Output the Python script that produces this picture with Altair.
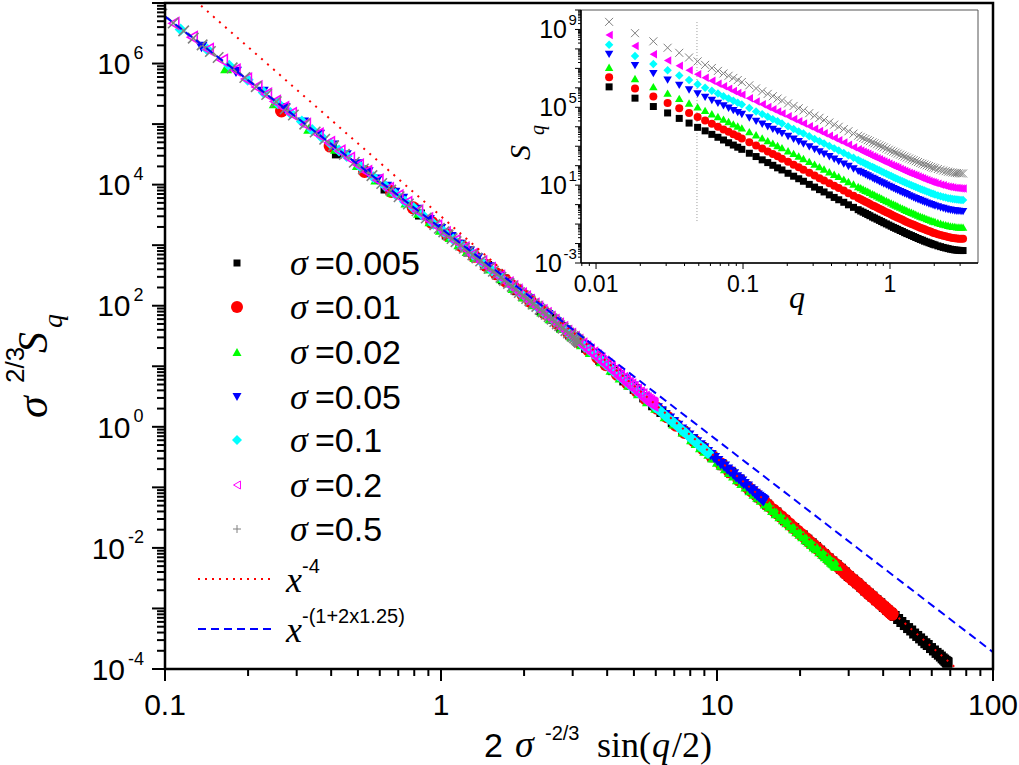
import numpy as np
import pandas as pd
import altair as alt

W, H = 828, 666  # main plot area (pixels)

sigmas = [0.005, 0.01, 0.02, 0.05, 0.1, 0.2, 0.5]
legend_values = ["=0.005", "=0.01", "=0.02", "=0.05", "=0.1", "=0.2", "=0.5"]

# wave-vector grid (subset of the modes shown)
q_values = [0.01227, 0.01841, 0.02454, 0.03068, 0.03682, 0.04295, 0.04909, 0.05522, 0.06136, 0.06750,
            0.07363, 0.07977, 0.08590, 0.09204, 0.09817, 0.1104, 0.1227, 0.1350, 0.1473, 0.1595,
            0.1718, 0.1841, 0.2025, 0.2209, 0.2393, 0.2577, 0.2823, 0.3068, 0.3313, 0.3559,
            0.3866, 0.4172, 0.4479, 0.4847, 0.5216, 0.5645, 0.6075, 0.6320, 0.6565, 0.6811,
            0.7056, 0.7302, 0.7609, 0.7854, 0.8161, 0.8468, 0.8774, 0.9081, 0.9449, 0.9817,
            1.0186, 1.0554, 1.0922, 1.1290, 1.1720, 1.2149, 1.2579, 1.3008, 1.3499, 1.3990,
            1.4481, 1.4972, 1.5524, 1.6076, 1.6628, 1.7181, 1.7794, 1.8408, 1.9021, 1.9635,
            2.0249, 2.1169, 2.2089, 2.3010, 2.3930, 2.4850, 2.5771, 2.6691, 2.7612, 2.8532,
            2.9452, 3.0434, 3.1416]

# log10 S_q, one list per sigma
logS_0005 = [6.05, 5.47, 5.04, 4.71, 4.43, 4.19, 3.97, 3.79, 3.61, 3.46,
             3.32, 3.18, 3.06, 2.95, 2.84, 2.64, 2.47, 2.30, 2.16, 2.02,
             1.89, 1.78, 1.61, 1.46, 1.33, 1.20, 1.04, 0.90, 0.77, 0.65,
             0.50, 0.37, 0.25, 0.12, -0.01, -0.14, -0.26, -0.33, -0.39, -0.45,
             -0.51, -0.57, -0.64, -0.69, -0.75, -0.81, -0.87, -0.93, -0.99, -1.05,
             -1.11, -1.17, -1.22, -1.27, -1.33, -1.38, -1.44, -1.49, -1.54, -1.59,
             -1.64, -1.69, -1.74, -1.79, -1.83, -1.88, -1.92, -1.96, -2.00, -2.04,
             -2.07, -2.12, -2.16, -2.20, -2.23, -2.26, -2.29, -2.31, -2.33, -2.34,
             -2.35, -2.36, -2.36]
logS_001 = [6.55, 5.97, 5.55, 5.22, 4.95, 4.71, 4.50, 4.32, 4.15, 4.00,
            3.86, 3.74, 3.62, 3.51, 3.40, 3.21, 3.04, 2.88, 2.73, 2.60,
            2.48, 2.36, 2.20, 2.05, 1.92, 1.79, 1.64, 1.50, 1.36, 1.24,
            1.10, 0.97, 0.85, 0.72, 0.59, 0.46, 0.34, 0.27, 0.21, 0.15,
            0.09, 0.03, -0.04, -0.09, -0.15, -0.21, -0.27, -0.33, -0.39, -0.45,
            -0.51, -0.57, -0.62, -0.67, -0.73, -0.78, -0.84, -0.89, -0.94, -0.99,
            -1.04, -1.09, -1.14, -1.19, -1.23, -1.27, -1.32, -1.36, -1.40, -1.44,
            -1.47, -1.52, -1.56, -1.60, -1.63, -1.66, -1.69, -1.71, -1.73, -1.74,
            -1.75, -1.76, -1.76]
logS_002 = [7.06, 6.48, 6.06, 5.73, 5.46, 5.22, 5.02, 4.84, 4.67, 4.53,
            4.39, 4.27, 4.15, 4.04, 3.94, 3.75, 3.59, 3.43, 3.29, 3.16,
            3.04, 2.93, 2.77, 2.63, 2.50, 2.37, 2.22, 2.08, 1.95, 1.83,
            1.69, 1.56, 1.45, 1.31, 1.19, 1.06, 0.93, 0.87, 0.80, 0.74,
            0.69, 0.63, 0.56, 0.51, 0.45, 0.39, 0.33, 0.27, 0.21, 0.15,
            0.09, 0.03, -0.02, -0.07, -0.13, -0.18, -0.24, -0.29, -0.34, -0.39,
            -0.44, -0.49, -0.54, -0.59, -0.63, -0.67, -0.72, -0.76, -0.80, -0.84,
            -0.87, -0.92, -0.96, -1.00, -1.03, -1.06, -1.09, -1.11, -1.12, -1.14,
            -1.15, -1.15, -1.16]
logS_005 = [7.72, 7.14, 6.73, 6.40, 6.13, 5.89, 5.69, 5.51, 5.35, 5.20,
            5.07, 4.95, 4.83, 4.73, 4.63, 4.45, 4.28, 4.13, 4.00, 3.87,
            3.76, 3.65, 3.50, 3.36, 3.23, 3.11, 2.97, 2.83, 2.71, 2.59,
            2.46, 2.33, 2.21, 2.08, 1.96, 1.83, 1.71, 1.65, 1.59, 1.53,
            1.47, 1.41, 1.35, 1.29, 1.23, 1.17, 1.12, 1.06, 1.00, 0.94,
            0.88, 0.82, 0.77, 0.72, 0.66, 0.61, 0.56, 0.51, 0.45, 0.40,
            0.35, 0.30, 0.25, 0.21, 0.16, 0.12, 0.08, 0.03, 0.00, -0.04,
            -0.08, -0.12, -0.17, -0.20, -0.24, -0.27, -0.29, -0.31, -0.33, -0.34,
            -0.35, -0.36, -0.36]
logS_01 = [8.22, 7.64, 7.23, 6.90, 6.63, 6.40, 6.19, 6.01, 5.85, 5.71,
           5.57, 5.45, 5.34, 5.23, 5.14, 4.96, 4.79, 4.65, 4.51, 4.39,
           4.28, 4.17, 4.02, 3.89, 3.76, 3.65, 3.51, 3.37, 3.25, 3.14,
           3.01, 2.89, 2.78, 2.65, 2.53, 2.41, 2.29, 2.22, 2.16, 2.10,
           2.05, 1.99, 1.93, 1.88, 1.82, 1.76, 1.70, 1.65, 1.58, 1.52,
           1.47, 1.41, 1.36, 1.31, 1.25, 1.20, 1.15, 1.10, 1.05, 0.99,
           0.95, 0.90, 0.85, 0.80, 0.76, 0.72, 0.67, 0.63, 0.59, 0.56,
           0.52, 0.47, 0.43, 0.39, 0.36, 0.33, 0.31, 0.29, 0.27, 0.26,
           0.25, 0.24, 0.24]
logS_02 = [8.72, 8.15, 7.73, 7.40, 7.13, 6.90, 6.70, 6.52, 6.36, 6.21,
           6.08, 5.96, 5.84, 5.74, 5.64, 5.46, 5.30, 5.16, 5.02, 4.90,
           4.79, 4.68, 4.54, 4.40, 4.28, 4.17, 4.03, 3.90, 3.78, 3.67,
           3.54, 3.42, 3.31, 3.19, 3.08, 2.95, 2.84, 2.78, 2.72, 2.66,
           2.61, 2.55, 2.49, 2.44, 2.38, 2.33, 2.27, 2.22, 2.16, 2.10,
           2.04, 1.99, 1.94, 1.89, 1.83, 1.78, 1.73, 1.68, 1.63, 1.58,
           1.53, 1.49, 1.44, 1.39, 1.35, 1.30, 1.26, 1.22, 1.18, 1.15,
           1.11, 1.07, 1.02, 0.99, 0.95, 0.92, 0.90, 0.88, 0.86, 0.85,
           0.84, 0.83, 0.83]
logS_05 = [9.39, 8.81, 8.39, 8.06, 7.80, 7.56, 7.36, 7.18, 7.02, 6.87,
           6.74, 6.62, 6.51, 6.40, 6.30, 6.13, 5.97, 5.82, 5.69, 5.57,
           5.45, 5.35, 5.20, 5.07, 4.95, 4.84, 4.70, 4.57, 4.46, 4.35,
           4.22, 4.11, 4.00, 3.88, 3.77, 3.65, 3.54, 3.48, 3.42, 3.37,
           3.31, 3.26, 3.20, 3.15, 3.10, 3.04, 2.99, 2.94, 2.88, 2.82,
           2.77, 2.72, 2.67, 2.62, 2.57, 2.52, 2.47, 2.42, 2.37, 2.32,
           2.28, 2.23, 2.19, 2.14, 2.10, 2.06, 2.02, 1.98, 1.94, 1.90,
           1.87, 1.83, 1.79, 1.75, 1.72, 1.69, 1.67, 1.65, 1.63, 1.62,
           1.61, 1.60, 1.60]

series_logS = [logS_0005, logS_001, logS_002, logS_005, logS_01, logS_02, logS_05]

# guide power laws
guide_x = [0.1, 100.0]
red_coef, red_exp = 3000.0, -4.0
blue_coef, blue_exp = 1900.0, -3.5

# inset marker line (dotted)
inset_mark_q = [0.0486]
inset_mark_top = [2.4e9]
inset_mark_bottom = [0.12]

# tick labels
main_x_ticks = [0.1, 1, 10, 100]
main_x_labels = ["0.1", "1", "10", "100"]
main_y_exps = [6, 4, 2, 0, -2, -4]
inset_x_ticks = [0.01, 0.1, 1]
inset_x_labels = ["0.01", "0.1", "1"]
inset_y_exps = [9, 5, 1, -3]

# ---------------------------------------------------------------- data frames
q = np.array(q_values)
main_frames, inset_frames = [], []
for s, ls in zip(sigmas, series_logS):
    S = 10.0 ** np.array(ls)
    inset_frames.append(pd.DataFrame({"q": q, "S": S}))
    x = 2.0 * s ** (-2.0 / 3.0) * np.sin(q / 2.0)
    y = s ** (2.0 / 3.0) * S
    keep = x >= 0.085
    main_frames.append(pd.DataFrame({"x": x[keep], "y": y[keep]}))

gx = np.array(guide_x)
red_df = pd.DataFrame({"x": gx, "y": red_coef * gx ** red_exp})
blue_df = pd.DataFrame({"x": gx, "y": blue_coef * gx ** blue_exp})

one = pd.DataFrame({"k": [0]})

XS = alt.Scale(type="log", domain=[0.1, 100], nice=False)
YS = alt.Scale(type="log", domain=[1e-4, 1e7], nice=False)
QX = alt.Scale(type="log", domain=[0.0079, 3.97], range=[416, 813], nice=False)
QY = alt.Scale(type="log", domain=[1e-3, 1e10], range=[260, 7], nice=False)

X_PATH = "M-1,-1L1,1M-1,1L1,-1"
PLUS_PATH = "M-1,0L1,0M0,-1L0,1"

# (shape, filled, colour, size, outline width)
main_style = [("square", True, "#000000", 100, 1), ("circle", True, "#ff0000", 169, 1),
              ("triangle-up", True, "#00ff00", 144, 1), ("triangle-down", True, "#0000ff", 144, 1),
              ("diamond", True, "#00ffff", 144, 1), ("triangle-left", False, "#ff00ff", 130, 1.6),
              (X_PATH, False, "#808080", 110, 1.6)]
inset_style = [("square", True, "#000000", 49, 1), ("circle", True, "#ff0000", 64, 1),
               ("triangle-up", True, "#00ff00", 72, 1), ("triangle-down", True, "#0000ff", 72, 1),
               ("diamond", True, "#00ffff", 72, 1), ("triangle-left", True, "#ff00ff", 72, 1),
               (X_PATH, False, "#808080", 64, 1)]
legend_style = [("square", True, "#000000", 49, 1), ("circle", True, "#ff0000", 144, 1),
                ("triangle-up", True, "#00ff00", 81, 1), ("triangle-down", True, "#0000ff", 81, 1),
                ("diamond", True, "#00ffff", 100, 1), ("triangle-left", False, "#ff00ff", 64, 1),
                (PLUS_PATH, False, "#808080", 64, 1)]


def mkw(shape, filled, color, size, sw, clip=False):
    kw = dict(shape=shape, size=size, opacity=1)
    if clip:
        kw["clip"] = True
    if filled:
        kw.update(filled=True, fill=color, strokeWidth=0)
    else:
        kw.update(filled=False, stroke=color, strokeWidth=sw)
    return kw


def T(s, x, y, size, font="Liberation Sans", italic=False, align="left", angle=None):
    kw = dict(text=s, font=font, fontSize=size, align=align, baseline="alphabetic", color="black")
    if italic:
        kw["fontStyle"] = "italic"
    if angle is not None:
        kw["angle"] = angle
    return alt.Chart(one).mark_text(**kw).encode(x=alt.value(x), y=alt.value(y))


def hticks(vals, scale, y0, y1, w):
    df = pd.DataFrame({"v": vals})
    return alt.Chart(df).mark_rule(color="black", strokeWidth=w).encode(
        x=alt.X("v:Q", scale=scale, axis=None), y=alt.value(y0), y2=alt.value(y1))


def vticks(vals, scale, x0, x1, w):
    df = pd.DataFrame({"v": vals})
    return alt.Chart(df).mark_rule(color="black", strokeWidth=w).encode(
        y=alt.Y("v:Q", scale=scale, axis=None), x=alt.value(x0), x2=alt.value(x1))


# ---------------------------------------------------------------- main panel
main_layers = []
x_major = [0.1, 1, 10, 100]
x_minor = [m * 10.0 ** k for k in (-1, 0, 1) for m in range(2, 10)]
y_major = [10.0 ** k for k in range(-4, 8)]
y_minor = [m * 10.0 ** k for k in range(-4, 7) for m in range(2, 10)]
main_layers += [hticks(x_major, XS, H, H + 12, 2), hticks(x_minor, XS, H, H + 7, 2),
                vticks(y_major, YS, 0, -13, 2), vticks(y_minor, YS, 0, -8, 2)]

for df, st in zip(main_frames, main_style):
    main_layers.append(alt.Chart(df).mark_point(**mkw(*st, clip=True)).encode(
        x=alt.X("x:Q", scale=XS, axis=None), y=alt.Y("y:Q", scale=YS, axis=None)))

main_layers.append(alt.Chart(red_df).mark_line(clip=True, color="#ff0000", strokeWidth=2,
                                               strokeDash=[2, 6]).encode(
    x=alt.X("x:Q", scale=XS, axis=None), y=alt.Y("y:Q", scale=YS, axis=None)))
main_layers.append(alt.Chart(blue_df).mark_line(clip=True, color="#0000ff", strokeWidth=2,
                                                strokeDash=[8, 5]).encode(
    x=alt.X("x:Q", scale=XS, axis=None), y=alt.Y("y:Q", scale=YS, axis=None)))

main_layers.append(alt.Chart(one).mark_rect(fillOpacity=0, stroke="black", strokeWidth=2.5).encode(
    x=alt.value(0), x2=alt.value(W), y=alt.value(0), y2=alt.value(H)))

# legend
rows = [260, 304, 349, 394, 437, 482, 526]
for ry, st, lab in zip(rows, legend_style, legend_values):
    main_layers.append(alt.Chart(one).mark_point(**mkw(*st)).encode(x=alt.value(72), y=alt.value(ry)))
    main_layers.append(T("\u03c3", 125, ry + 12, 36, font="Liberation Serif", italic=True))
    main_layers.append(T(lab, 150, ry + 12, 34))
main_layers.append(alt.Chart(one).mark_rule(color="#ff0000", strokeWidth=2, strokeDash=[2, 5]).encode(
    x=alt.value(33), x2=alt.value(107), y=alt.value(576)))
main_layers.append(alt.Chart(one).mark_rule(color="#0000ff", strokeWidth=2, strokeDash=[8, 5]).encode(
    x=alt.value(33), x2=alt.value(107), y=alt.value(626)))
main_layers += [T("x", 121, 589, 36, font="Liberation Serif", italic=True),
                T("-4", 137, 570, 20),
                T("x", 121, 639, 36, font="Liberation Serif", italic=True),
                T("-(1+2x1.25)", 137, 620, 20)]

# tick labels
xl_df = pd.DataFrame({"v": main_x_ticks, "t": main_x_labels})
main_layers.append(alt.Chart(xl_df).mark_text(font="Liberation Sans", fontSize=30, align="center",
                                              baseline="alphabetic").encode(
    x=alt.X("v:Q", scale=XS, axis=None), y=alt.value(712), text="t:N"))
for neg in (False, True):
    ex = [e for e in main_y_exps if (e < 0) == neg]
    df = pd.DataFrame({"v": [10.0 ** e for e in ex], "e": [str(e) for e in ex]})
    base_right = -40.0 if neg else -34.5
    main_layers.append(alt.Chart(df).mark_text(text="10", font="Liberation Sans", fontSize=30,
                                               align="right", baseline="alphabetic", dy=10.7).encode(
        y=alt.Y("v:Q", scale=YS, axis=None), x=alt.value(base_right)))
    main_layers.append(alt.Chart(df).mark_text(font="Liberation Sans", fontSize=18,
                                               align="left", baseline="alphabetic", dy=-4.5).encode(
        y=alt.Y("v:Q", scale=YS, axis=None), x=alt.value(base_right + 3), text="e:N"))

# axis titles
main_layers += [T("2", 319, 754, 34),
                T("\u03c3", 350, 754, 38, font="Liberation Serif", italic=True),
                T("-2/3", 380, 737, 20),
                T("sin(", 432, 754, 36, font="Liberation Serif"),
                T("q", 487, 754, 36, font="Liberation Serif", italic=True),
                T("/2)", 507, 754, 36, font="Liberation Serif")]
main_layers += [T("\u03c3", -118, 415, 44, font="Liberation Serif", italic=True, angle=270),
                T("2/3", -141, 380, 26, angle=270),
                T("S", -118, 350, 42, font="Liberation Serif", italic=True, angle=270),
                T("q", -103, 325, 28, font="Liberation Serif", italic=True, angle=270)]

main_group = alt.layer(*main_layers)

# ---------------------------------------------------------------- inset
inset_layers = []
inset_layers.append(alt.Chart(one).mark_rect(fill="white", stroke="#555555", strokeWidth=1).encode(
    x=alt.value(416), x2=alt.value(813), y=alt.value(7), y2=alt.value(260)))
qx_major = [0.01, 0.1, 1]
qx_minor = [0.008, 0.009] + [m * 10.0 ** k for k in (-2, -1) for m in range(2, 10)] + [2, 3]
qy_major = [10.0 ** k for k in range(-3, 11)]
qy_minor = [m * 10.0 ** k for k in range(-3, 10) for m in range(2, 10)]
inset_layers += [hticks(qx_major, QX, 260, 266, 1), hticks(qx_minor, QX, 260, 263, 1),
                 vticks(qy_major, QY, 416, 410, 1), vticks(qy_minor, QY, 416, 413, 1)]
inset_layers.append(alt.Chart(one).mark_rule(color="black", strokeWidth=1.5).encode(
    x=alt.value(416), y=alt.value(7), y2=alt.value(260)))
inset_layers.append(alt.Chart(one).mark_rule(color="black", strokeWidth=1.5).encode(
    x=alt.value(416), x2=alt.value(813), y=alt.value(260)))

mk_df = pd.DataFrame({"q": inset_mark_q, "a": inset_mark_top, "b": inset_mark_bottom})
inset_layers.append(alt.Chart(mk_df).mark_rule(color="#9a9a9a", strokeWidth=1, strokeDash=[1, 2]).encode(
    x=alt.X("q:Q", scale=QX, axis=None), y=alt.Y("a:Q", scale=QY, axis=None), y2="b:Q"))

for df, st in zip(inset_frames, inset_style):
    inset_layers.append(alt.Chart(df).mark_point(**mkw(*st)).encode(
        x=alt.X("q:Q", scale=QX, axis=None), y=alt.Y("S:Q", scale=QY, axis=None)))

ixl = pd.DataFrame({"v": inset_x_ticks, "t": inset_x_labels})
inset_layers.append(alt.Chart(ixl).mark_text(font="Liberation Sans", fontSize=23, align="center",
                                             baseline="alphabetic").encode(
    x=alt.X("v:Q", scale=QX, axis=None), y=alt.value(289), text="t:N"))
for neg in (False, True):
    ex = [e for e in inset_y_exps if (e < 0) == neg]
    df = pd.DataFrame({"v": [10.0 ** e for e in ex], "e": [str(e) for e in ex]})
    base_right = 397.0 if neg else 402.0
    inset_layers.append(alt.Chart(df).mark_text(text="10", font="Liberation Sans", fontSize=25,
                                                align="right", baseline="alphabetic", dy=9).encode(
        y=alt.Y("v:Q", scale=QY, axis=None), x=alt.value(base_right)))
    inset_layers.append(alt.Chart(df).mark_text(font="Liberation Sans", fontSize=15,
                                                align="left", baseline="alphabetic", dy=-4.5).encode(
        y=alt.Y("v:Q", scale=QY, axis=None), x=alt.value(base_right + 1.5), text="e:N"))
inset_layers += [T("q", 632, 305, 32, font="Liberation Serif", italic=True, align="center"),
                 T("S", 365, 157, 30, font="Liberation Serif", italic=True, angle=270),
                 T("q", 379, 132, 20, font="Liberation Serif", italic=True, angle=270)]

inset_group = alt.layer(*inset_layers)

chart = alt.layer(main_group, inset_group).resolve_scale(x="independent", y="independent").properties(
    width=W, height=H,
    padding={"left": 165, "top": 3, "right": 26, "bottom": 96},
    autosize=alt.AutoSizeParams(type="none"),
).configure_view(strokeWidth=0)

chart.save("out.html", embed_options={"renderer": "svg", "actions": False})
